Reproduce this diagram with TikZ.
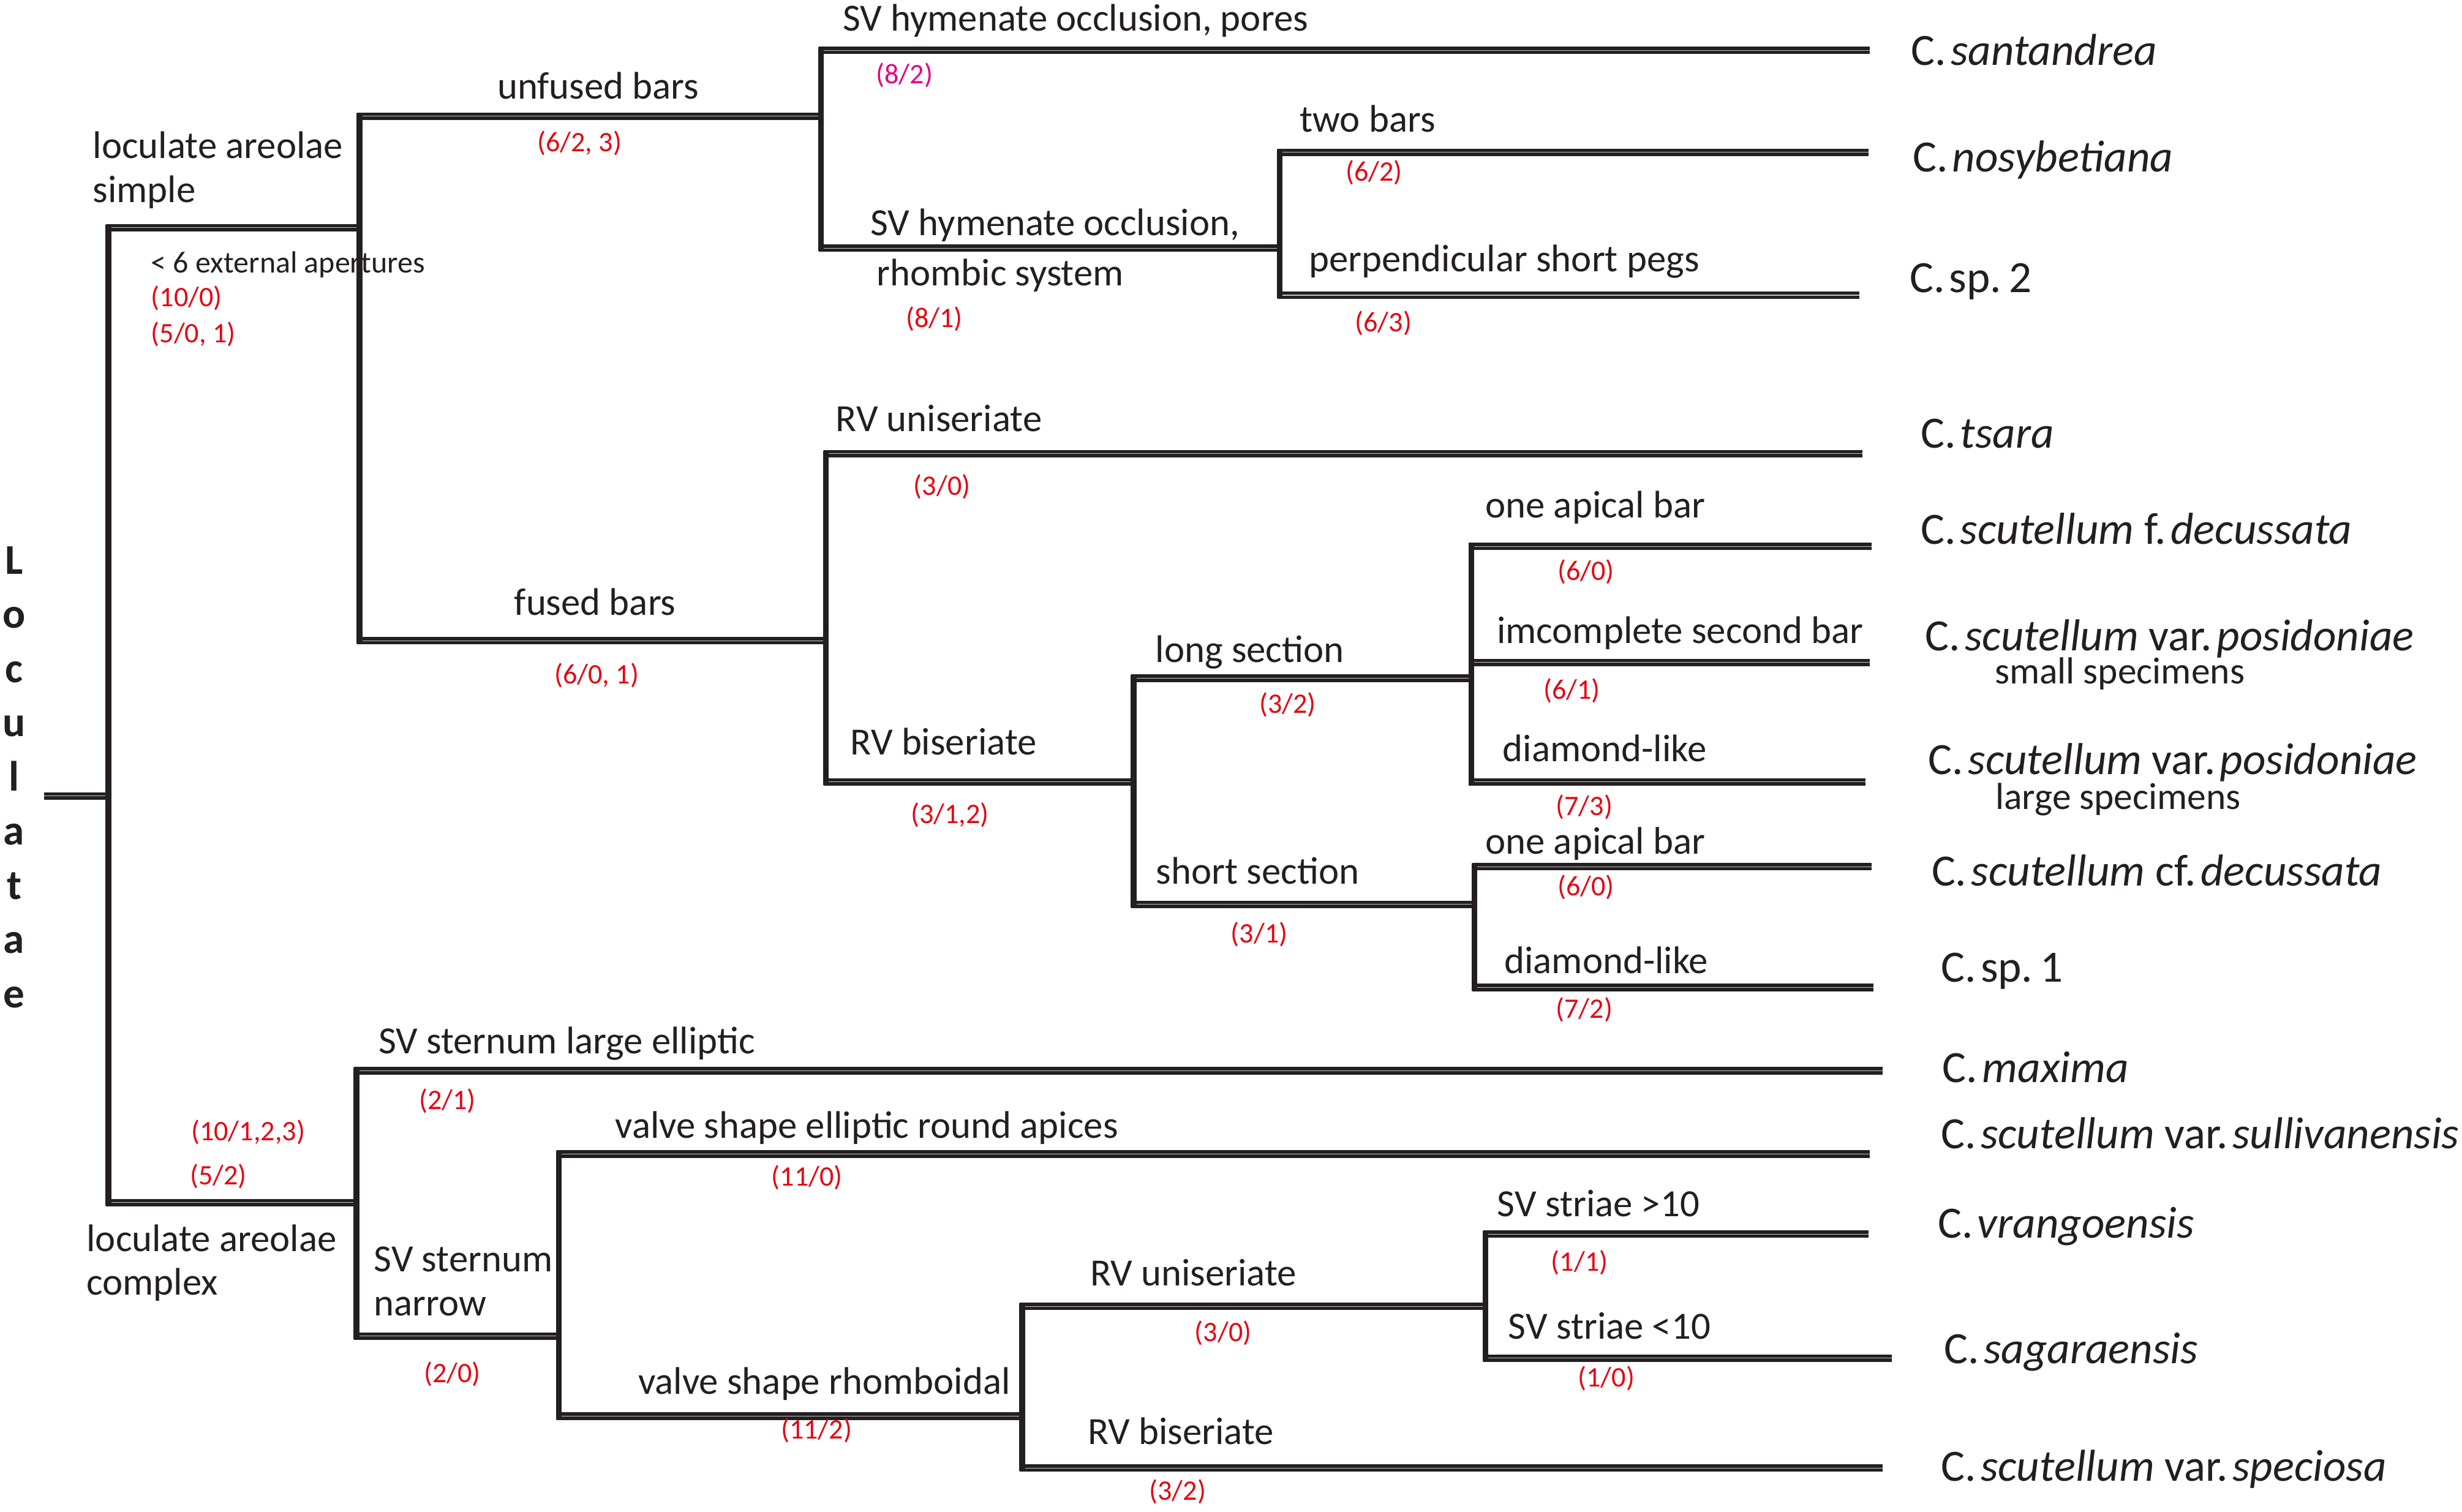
\documentclass[tikz,border=0pt]{standalone}
\usepackage{fontspec}
\setmainfont{Carlito}
\definecolor{ink}{HTML}{231F20}
\definecolor{redn}{HTML}{E30613}
\definecolor{magn}{HTML}{E6007E}
\tikzset{
  br/.style={draw=ink, line width=3.6pt, line cap=butt},
  hb/.style={draw=ink, line width=2.2pt, double=gray!45, double distance=0.4pt, line cap=butt},
  lab/.style={anchor=mid, inner sep=0pt, text=ink, yshift=-4.5pt, font=\fontsize{24.5}{26}\selectfont},
  num/.style={anchor=mid, inner sep=0pt, text=redn, yshift=-3pt, font=\fontsize{18}{20}\selectfont},
  spn/.style={anchor=mid west, inner sep=0pt, text=ink, yshift=-6pt, font=\fontsize{28.5}{30}\selectfont},
  subn/.style={anchor=mid, inner sep=0pt, text=ink, yshift=-5pt, font=\fontsize{24}{26}\selectfont},
}
\newcommand{\gen}{C.\hspace{0.1em}}
\begin{document}
\begin{tikzpicture}[x=1pt,y=-1pt]
\useasboundingbox (0,0) rectangle (1568,963);
% ---------- coordinates ----------
\coordinate (r0) at (28,507); \coordinate (r1) at (67,507);
\coordinate (a0) at (69,145); \coordinate (a1) at (229,145);
\coordinate (h0) at (69,766); \coordinate (h1) at (227,766);
% simple clade
\coordinate (b0) at (229,74);  \coordinate (b1) at (523,74);
\coordinate (d0) at (229,408); \coordinate (d1) at (526,408);
\coordinate (s0) at (523,32);  \coordinate (s1) at (1191,32);
\coordinate (c0) at (523,158); \coordinate (c1) at (815,158);
\coordinate (nb0) at (815,97); \coordinate (nb1) at (1190,97);
\coordinate (sp0) at (815,188); \coordinate (sp1) at (1184,188);
\coordinate (t0) at (526,289); \coordinate (t1) at (1186,289);
\coordinate (e0) at (526,498); \coordinate (e1) at (722,498);
\coordinate (f0) at (722,432); \coordinate (f1) at (937,432);
\coordinate (g0) at (722,576); \coordinate (g1) at (939,576);
\coordinate (fd0) at (937,348); \coordinate (fd1) at (1192,348);
\coordinate (ps0) at (937,422); \coordinate (ps1) at (1191,422);
\coordinate (pl0) at (937,498); \coordinate (pl1) at (1188,498);
\coordinate (cf0) at (939,552); \coordinate (cf1) at (1192,552);
\coordinate (s10) at (939,629); \coordinate (s11) at (1193,629);
% complex clade
\coordinate (m0) at (227,682); \coordinate (m1) at (1199,682);
\coordinate (i0) at (227,851); \coordinate (i1) at (356,851);
\coordinate (su0) at (356,735); \coordinate (su1) at (1191,735);
\coordinate (j0) at (356,902); \coordinate (j1) at (651,902);
\coordinate (k0) at (651,832); \coordinate (k1) at (946,832);
\coordinate (v0) at (946,786); \coordinate (v1) at (1190,786);
\coordinate (sa0) at (946,865); \coordinate (sa1) at (1205,865);
\coordinate (sc0) at (651,935); \coordinate (sc1) at (1199,935);
% ---------- horizontal branches ----------
\draw[hb] (r0) -- (r1);
\draw[hb] ([xshift=-1.5pt]a0) -- (a1); \draw[hb] ([xshift=-1.5pt]h0) -- (h1);
\draw[hb] ([xshift=-1.5pt]b0) -- (b1); \draw[hb] ([xshift=-1.5pt]d0) -- (d1);
\draw[hb] ([xshift=-1.5pt]s0) -- (s1); \draw[hb] ([xshift=-1.5pt]c0) -- (c1);
\draw[hb] ([xshift=-1.5pt]nb0) -- (nb1); \draw[hb] ([xshift=-1.5pt]sp0) -- (sp1);
\draw[hb] ([xshift=-1.5pt]t0) -- (t1); \draw[hb] ([xshift=-1.5pt]e0) -- (e1);
\draw[hb] ([xshift=-1.5pt]f0) -- (f1); \draw[hb] ([xshift=-1.5pt]g0) -- (g1);
\draw[hb] ([xshift=-1.5pt]fd0) -- (fd1); \draw[hb] ([xshift=-1.5pt]ps0) -- (ps1); \draw[hb] ([xshift=-1.5pt]pl0) -- (pl1);
\draw[hb] ([xshift=-1.5pt]cf0) -- (cf1); \draw[hb] ([xshift=-1.5pt]s10) -- (s11);
\draw[hb] ([xshift=-1.5pt]m0) -- (m1); \draw[hb] ([xshift=-1.5pt]i0) -- (i1);
\draw[hb] ([xshift=-1.5pt]su0) -- (su1); \draw[hb] ([xshift=-1.5pt]j0) -- (j1);
\draw[hb] ([xshift=-1.5pt]k0) -- (k1); \draw[hb] ([xshift=-1.5pt]sc0) -- (sc1);
\draw[hb] ([xshift=-1.5pt]v0) -- (v1); \draw[hb] ([xshift=-1.5pt]sa0) -- (sa1);
% ---------- vertical branches ----------
\draw[br] ([yshift=2pt]a0) -- ([yshift=-2pt]h0);
\draw[br] ([yshift=2pt]b0) -- ([yshift=-2pt]d0);
\draw[br] ([yshift=2pt]s0) -- ([yshift=-2pt]c0);
\draw[br] ([yshift=2pt]nb0) -- ([yshift=-2pt]sp0);
\draw[br] ([yshift=2pt]t0) -- ([yshift=-2pt]e0);
\draw[br] ([yshift=2pt]f0) -- ([yshift=-2pt]g0);
\draw[br] ([yshift=2pt]fd0) -- ([yshift=-2pt]pl0);
\draw[br] ([yshift=2pt]cf0) -- ([yshift=-2pt]s10);
\draw[br] ([yshift=2pt]m0) -- ([yshift=-2pt]i0);
\draw[br] ([yshift=2pt]su0) -- ([yshift=-2pt]j0);
\draw[br] ([yshift=2pt]k0) -- ([yshift=-2pt]sc0);
\draw[br] ([yshift=2pt]v0) -- ([yshift=-2pt]sa0);
% ---------- root label ----------
\node (loc) [anchor=center, inner sep=0pt, align=center, text=ink,
  font=\fontsize{27}{34.5}\selectfont\bfseries] at (9,495)
  {L\\o\\c\\u\\l\\a\\t\\a\\e};
% ---------- character labels ----------
\node[lab, anchor=mid west] (lsimp1) at (59,94) {loculate areolae};
\node[lab, anchor=mid west] (lsimp2) at (59,122) {simple};
\node[lab, anchor=mid west, font=\fontsize{19.5}{21}\selectfont] (ext) at (96,167) {< 6 external apertures};
\node[num, anchor=mid west] (n100) at (96,190) {(10/0)};
\node[num, anchor=mid west] (n501) at (96,213) {(5/0, 1)};
\node[lab] (lunf) at (381,56) {unfused bars};
\node[num] (n623) at (369,91) {(6/2, 3)};
\node[lab] (lpores) at (685,13) {SV hymenate occlusion, pores};
\node[num, text=magn] (n82) at (576,48) {(8/2)};
\node[lab] (lrh1) at (672,143) {SV hymenate occlusion,};
\node[lab] (lrh2) at (637,175) {rhombic system};
\node[num] (n81) at (595,203) {(8/1)};
\node[lab] (ltwo) at (871,77) {two bars};
\node[num] (n62) at (875,110) {(6/2)};
\node[lab] (lperp) at (958,166) {perpendicular short pegs};
\node[num] (n63) at (881,206) {(6/3)};
\node[lab] (lfused) at (379,385) {fused bars};
\node[num] (n601) at (380,430) {(6/0, 1)};
\node[lab] (lrvu) at (598,268) {RV uniseriate};
\node[num] (n30) at (600,310) {(3/0)};
\node[lab] (lrvb) at (601,474) {RV biseriate};
\node[num] (n312) at (605,519) {(3/1,2)};
\node[lab] (llong) at (796,415) {long section};
\node[num] (n32) at (820,449) {(3/2)};
\node[lab] (lone1) at (1016,323) {one apical bar};
\node[num] (n60a) at (1010,364) {(6/0)};
\node[lab] (limc) at (1070,403) {imcomplete second bar};
\node[num] (n61) at (1001,440) {(6/1)};
\node[lab] (ldia1) at (1022,478) {diamond-like};
\node[num] (n73) at (1009,514) {(7/3)};
\node[lab] (lshort) at (801,556) {short section};
\node[num] (n31) at (802,595) {(3/1)};
\node[lab] (lone2) at (1016,537) {one apical bar};
\node[num] (n60b) at (1010,565) {(6/0)};
\node[lab] (ldia2) at (1023,613) {diamond-like};
\node[num] (n72) at (1009,643) {(7/2)};
\node[num] (n1023) at (158,721) {(10/1,2,3)};
\node[num] (n52) at (139,749) {(5/2)};
\node[lab, anchor=mid west] (lcx1) at (55,790) {loculate areolae};
\node[lab, anchor=mid west] (lcx2) at (55,818) {complex};
\node[lab] (lsle) at (361,664) {SV sternum large elliptic};
\node[num] (n21) at (285,701) {(2/1)};
\node[lab, anchor=mid west] (lsn1) at (238,803) {SV sternum};
\node[lab, anchor=mid west] (lsn2) at (238,831) {narrow};
\node[num] (n20) at (288,875) {(2/0)};
\node[lab] (lvse) at (552,718) {valve shape elliptic round apices};
\node[num] (n110) at (514,750) {(11/0)};
\node[lab] (lvsr) at (525,881) {valve shape rhomboidal};
\node[num] (n112) at (520,911) {(11/2)};
\node[lab] (lrvu2) at (760,812) {RV uniseriate};
\node[num] (n30b) at (779,849) {(3/0)};
\node[lab] (lgt) at (1018,768) {SV striae >10};
\node[num] (n11) at (1006,804) {(1/1)};
\node[lab] (llt) at (1025,846) {SV striae <10};
\node[num] (n10) at (1023,878) {(1/0)};
\node[lab] (lrvb2) at (752,913) {RV biseriate};
\node[num] (n32b) at (750,950) {(3/2)};
% ---------- species ----------
\node[spn] (tsan) at (1217,33) {\gen\textit{santandrea}};
\node[spn] (tnos) at (1218,101) {\gen\textit{nosybetiana}};
\node[spn] (tsp2) at (1216,178) {\gen sp.\,2};
\node[spn] (ttsa) at (1223,277) {\gen\textit{tsara}};
\node[spn] (tdec) at (1223,338) {\gen\textit{scutellum} f.\hspace{0.1em}\textit{decussata}};
\node[spn] (tps) at (1226,406) {\gen\textit{scutellum} var.\hspace{0.1em}\textit{posidoniae}};
\node[subn] (tpss) at (1350,428) {small specimens};
\node[spn] (tpl) at (1228,485) {\gen\textit{scutellum} var.\hspace{0.1em}\textit{posidoniae}};
\node[subn] (tpll) at (1349,508) {large specimens};
\node[spn] (tcf) at (1230,556) {\gen\textit{scutellum} cf.\hspace{0.1em}\textit{decussata}};
\node[spn] (tsp1) at (1236,617) {\gen sp.\,1};
\node[spn] (tmax) at (1237,681) {\gen\textit{maxima}};
\node[spn] (tsul) at (1236,723) {\gen\textit{scutellum} var.\hspace{0.1em}\textit{sullivanensis}};
\node[spn] (tvra) at (1234,780) {\gen\textit{vrangoensis}};
\node[spn] (tsag) at (1238,860) {\gen\textit{sagaraensis}};
\node[spn] (tspe) at (1236,935) {\gen\textit{scutellum} var.\hspace{0.1em}\textit{speciosa}};
\end{tikzpicture}
\end{document}
